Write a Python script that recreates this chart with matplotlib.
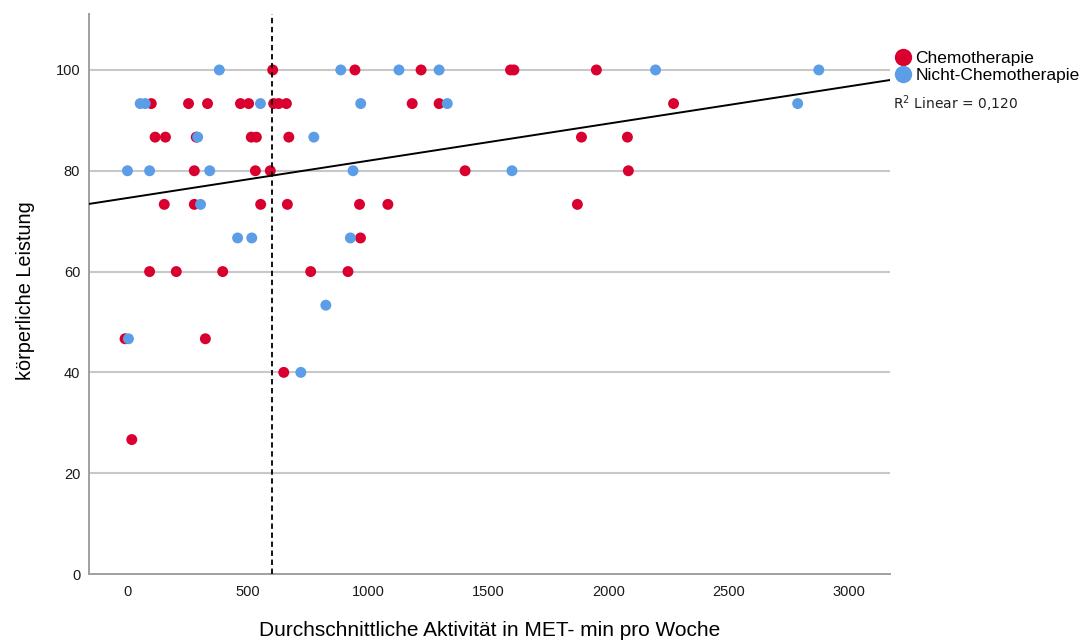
import numpy as np
import matplotlib.pyplot as plt
from matplotlib.lines import Line2D

# ------------------------------------------------------------
# Data (MET-min / week vs. physical function)
# ------------------------------------------------------------
chemo_x = [604, 946, 1221, 1593, 1607, 1950,
           99, 254, 333, 470, 504, 608, 629, 661, 1184, 1296, 2271,
           115, 158, 286, 515, 536, 671, 1888, 2079,
           278, 532, 594, 1404, 2083,
           153, 278, 554, 665, 965, 1083, 1871,
           969,
           92, 203, 396, 762, 917,
           -10, 324,
           650,
           18]
chemo_y = [100, 100, 100, 100, 100, 100,
           93.33, 93.33, 93.33, 93.33, 93.33, 93.33, 93.33, 93.33, 93.33, 93.33, 93.33,
           86.67, 86.67, 86.67, 86.67, 86.67, 86.67, 86.67, 86.67,
           80, 80, 80, 80, 80,
           73.33, 73.33, 73.33, 73.33, 73.33, 73.33, 73.33,
           66.67,
           60, 60, 60, 60, 60,
           46.67, 46.67,
           40,
           26.67]

nochemo_x = [382, 887, 1129, 1296, 2196, 2875,
             53, 74, 553, 970, 1330, 2787,
             292, 775,
             0, 92, 342, 938, 1599,
             304,
             458, 517, 927,
             825,
             4,
             721]
nochemo_y = [100, 100, 100, 100, 100, 100,
             93.33, 93.33, 93.33, 93.33, 93.33, 93.33,
             86.67, 86.67,
             80, 80, 80, 80, 80,
             73.33,
             66.67, 66.67, 66.67,
             53.33,
             46.67,
             40]

# regression line as shown in the chart (R² = 0,120)
fit_intercept = 74.6
fit_slope = 0.00738

cutoff_met = 600
r2_text = "R$^2$ Linear = 0,120"

red = "#d90030"
blue = "#5b9de6"

plt.rcParams['font.family'] = ['Liberation Sans', 'DejaVu Sans']

fig = plt.figure(figsize=(10.81, 6.42), dpi=100)
ax = fig.add_axes([88.5 / 1081, 1 - 574 / 642, (890 - 88.5) / 1081, (574 - 14) / 642])

xmin, xmax = -162, 3171
ax.set_xlim(xmin, xmax)
ax.set_ylim(0, 111.1)

# grid lines at y ticks
for yv in [20, 40, 60, 80, 100]:
    ax.axhline(yv, color="#c8c8c8", lw=1.5, zorder=0)

ax.scatter(chemo_x, chemo_y, s=62, color=red, edgecolors="none", zorder=3)
ax.scatter(nochemo_x, nochemo_y, s=62, color=blue, edgecolors="none", zorder=4)

xs = np.array([xmin, xmax])
ax.plot(xs, fit_intercept + fit_slope * xs, color="black", lw=1.4, zorder=5)

ax.axvline(cutoff_met, color="black", lw=1.3, ls=(0, (3, 2)), zorder=6)

ax.set_xticks([0, 500, 1000, 1500, 2000, 2500, 3000])
ax.set_yticks([0, 20, 40, 60, 80, 100])
ax.tick_params(length=0, labelsize=10.5, colors="#1a1a1a")
ax.tick_params(axis="x", pad=8)
ax.tick_params(axis="y", pad=6)

for s in ["top", "right"]:
    ax.spines[s].set_visible(False)
for s in ["left", "bottom"]:
    ax.spines[s].set_color("#a0a0a0")
    ax.spines[s].set_linewidth(1.4)

ax.set_xlabel("Durchschnittliche Aktivität in MET- min pro Woche", fontsize=15, va="center")
ax.xaxis.set_label_coords((490 - 88.5) / 801.5, (574 - 630) / 560)
ax.set_ylabel("körperliche Leistung", fontsize=14.3, va="center")
ax.yaxis.set_label_coords((25 - 88.5) / 801.5, (574 - 291) / 560)

handles = [Line2D([], [], marker="o", ls="none", markersize=12.5, color=red, markeredgewidth=0),
           Line2D([], [], marker="o", ls="none", markersize=12.5, color=blue, markeredgewidth=0)]
fig.legend(handles, ["Chemotherapie", "Nicht-Chemotherapie"],
           loc="upper left", bbox_to_anchor=(893 / 1081, 1 - 51 / 642),
           frameon=False, fontsize=12.5, handletextpad=0.1, labelspacing=0.12,
           borderaxespad=0, borderpad=0, handlelength=1.2)
fig.text(893 / 1081, 1 - 104 / 642, r2_text, fontsize=10, family="DejaVu Sans",
         va="center", ha="left", color="#222222")

fig.savefig("out.png", dpi=100)
